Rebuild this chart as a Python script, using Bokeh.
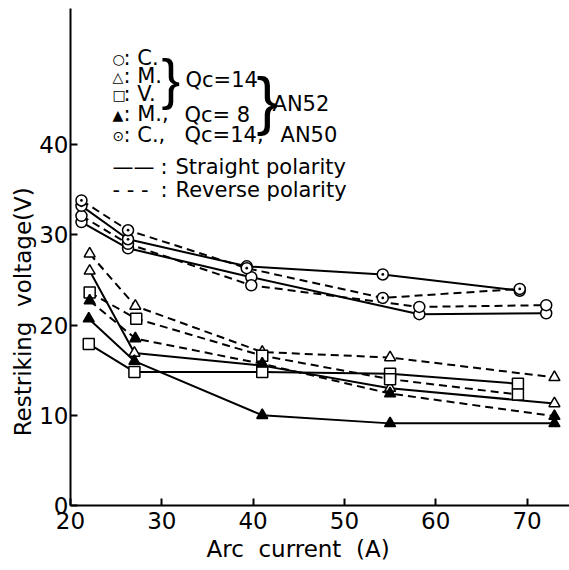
from bokeh.plotting import figure
from bokeh.embed import file_html
from bokeh.resources import INLINE
from bokeh.models import Label, Range1d, FixedTicker

# ---- data (arc current in A, restriking voltage in V) ----
c_str_x = [21.2, 26.3, 39.8, 58.2, 72.1]
c_str_y = [31.4, 28.5, 25.3, 21.2, 21.3]
c_rev_x = [21.2, 26.3, 39.8, 58.2, 72.1]
c_rev_y = [32.1, 29.0, 24.4, 22.0, 22.2]

an50_str_x = [21.2, 26.3, 39.3, 54.2, 69.2]
an50_str_y = [33.2, 29.5, 26.5, 25.6, 23.8]
an50_rev_x = [21.2, 26.3, 39.3, 54.2, 69.2]
an50_rev_y = [33.8, 30.5, 26.3, 23.0, 24.0]

m_str_x = [22.1, 27.0, 41.0, 55.0, 73.0]
m_str_y = [26.0, 16.9, 15.5, 13.0, 11.3]
m_rev_x = [22.1, 27.1, 41.0, 55.0, 73.0]
m_rev_y = [27.9, 22.1, 17.0, 16.4, 14.2]

v_str_x = [22.0, 27.0, 41.0, 55.0, 69.0]
v_str_y = [17.9, 14.8, 14.8, 14.6, 13.5]
v_rev_x = [22.1, 27.2, 41.0, 55.0, 69.0]
v_rev_y = [23.6, 20.7, 16.6, 14.0, 12.3]

m8_str_x = [22.0, 27.0, 41.0, 55.0, 73.0]
m8_str_y = [20.7, 16.0, 10.0, 9.1, 9.1]
m8_rev_x = [22.1, 27.1, 41.0, 55.0, 73.0]
m8_rev_y = [22.7, 18.5, 15.7, 12.4, 9.9]

x_ticks = [20, 30, 40, 50, 60, 70]
y_ticks = [0, 10, 20, 30, 40]

x_title = "Arc  current  (A)"
y_title = "Restriking  voltage(V)"

FONT = "DejaVu Sans"
NB = "\u00a0"

p = figure(width=569, height=570, output_backend="svg", toolbar_location=None,
           x_range=Range1d(20, 74.65), y_range=Range1d(0, 55.07),
           min_border_left=70, min_border_right=0, min_border_top=8, min_border_bottom=65)
p.outline_line_color = None
p.grid.visible = False
p.background_fill_color = "white"
p.border_fill_color = "white"

for ax in (p.xaxis[0], p.yaxis[0]):
    ax.axis_line_width = 2
    ax.axis_line_color = "black"
    ax.major_tick_in = 7
    ax.major_tick_out = 0
    ax.major_tick_line_width = 2
    ax.minor_tick_line_color = None
    ax.major_label_text_font = FONT
    ax.major_label_text_font_size = "23px"
    ax.major_label_text_color = "black"
    ax.axis_label_text_font = FONT
    ax.axis_label_text_font_style = "normal"
    ax.axis_label_text_font_size = "23px"
    ax.axis_label_text_color = "black"

p.xaxis.ticker = FixedTicker(ticks=x_ticks)
p.yaxis.ticker = FixedTicker(ticks=y_ticks)
p.xaxis.major_label_standoff = 6
p.yaxis.major_label_standoff = 2
# trailing no-break spaces shift the centred titles to where the original has them
p.xaxis.axis_label = x_title.replace(" ", NB) + NB * 6
p.yaxis.axis_label = y_title.replace(" ", NB) + NB * 15
p.xaxis.axis_label_standoff = 4
p.yaxis.axis_label_standoff = 0

LW = 2
DASH = "8 5"
MS = 11

series = [
    (c_str_x, c_str_y, "solid", "circle", "white"),
    (c_rev_x, c_rev_y, DASH, "circle", "white"),
    (an50_str_x, an50_str_y, "solid", "circle_dot", "white"),
    (an50_rev_x, an50_rev_y, DASH, "circle_dot", "white"),
    (m_str_x, m_str_y, "solid", "triangle", "white"),
    (m_rev_x, m_rev_y, DASH, "triangle", "white"),
    (v_str_x, v_str_y, "solid", "square", "white"),
    (v_rev_x, v_rev_y, DASH, "square", "white"),
    (m8_str_x, m8_str_y, "solid", "triangle", "black"),
    (m8_rev_x, m8_rev_y, DASH, "triangle", "black"),
]

for xs, ys, dash, mk, fill in series:
    p.line(xs, ys, line_color="black", line_width=LW, line_dash=dash)
for xs, ys, dash, mk, fill in series:
    p.scatter(xs, ys, marker=mk, size=MS, fill_color=fill, line_color="black", line_width=1.5)


def px_to_x(px):
    return 20 + (px - 70) / 9.13


def py_to_y(py):
    return (505 - py) / 9.025


def put(txt, px, py, size="21px", font=FONT):
    p.add_layout(Label(x=px_to_x(px), y=py_to_y(py), text=txt, text_font=font,
                       text_font_size=size, text_baseline="middle", text_align="left",
                       text_color="black"))


# ---- hand-made legend ----
SYM = "14px"
put("○", 112, 58, SYM)
put(": C.", 123, 57)
put("△", 112, 76, SYM)
put(": M.", 123, 75)
put("□", 112, 94, SYM)
put(": V.", 123, 93)
put("▲", 112, 114, SYM)
put(": M.,", 123, 113)
put("Qc= 8", 184, 114)
put("⊙", 112, 135, SYM)
put(": C.,", 123, 134)
put("Qc=14,", 184, 134)
put("AN50", 280, 134)
put("Qc=14", 185, 79)
put("AN52", 272, 103)
put("}", 161, 78, "56px", "Liberation Sans")
put("}", 256, 100, "64px", "Liberation Sans")
put("——", 112, 166)
put(":", 160, 166)
put("Straight polarity", 175, 166)
put("- - -", 112, 189)
put(":", 160, 189)
put("Reverse polarity", 175, 189)

open("out.html", "w").write(file_html(p, INLINE))
